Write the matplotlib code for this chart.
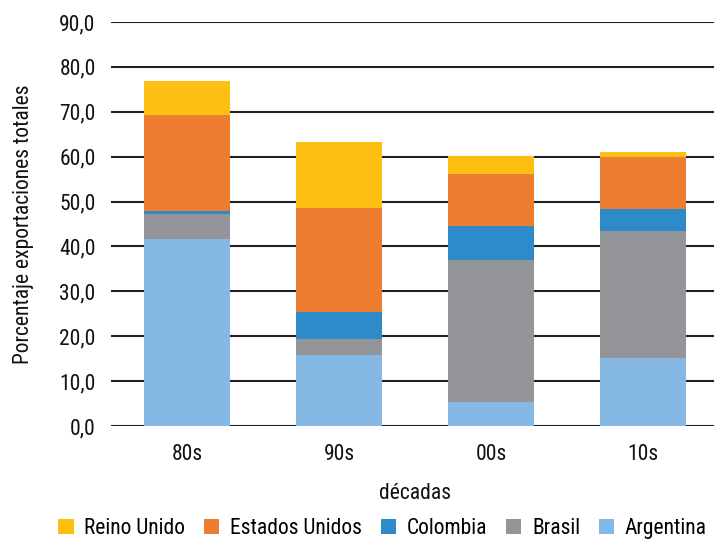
import numpy as np
import matplotlib.pyplot as plt
from matplotlib.ticker import FuncFormatter

plt.rcParams['font.family'] = ['Roboto Condensed', 'DejaVu Sans']

decadas = ['80s', '90s', '00s', '10s']
argentina = [41.6, 15.8, 5.3, 15.1]
brasil = [5.6, 3.5, 31.7, 28.3]
colombia = [0.7, 6.0, 7.5, 4.9]
estados_unidos = [21.4, 23.2, 11.6, 11.6]
reino_unido = [7.5, 14.7, 4.0, 1.1]

series = [
    ('Argentina', argentina, '#85B8E2'),
    ('Brasil', brasil, '#939598'),
    ('Colombia', colombia, '#2E8BC9'),
    ('Estados Unidos', estados_unidos, '#ED7D31'),
    ('Reino Unido', reino_unido, '#FDBF12'),
]

fig = plt.figure(figsize=(7.14, 5.42), dpi=100)
ax = fig.add_axes([111 / 714, (542 - 426) / 542, 608 / 714, 404 / 542])

x = np.arange(len(decadas))
bottom = np.zeros(len(decadas))
handles = []
for name, vals, color in series:
    b = ax.bar(x, vals, width=0.56, bottom=bottom, color=color, label=name, zorder=3)
    handles.append(b)
    bottom += np.array(vals)

ax.set_xlim(-0.5, 3.5)
ax.set_ylim(0, 90)
ax.set_yticks(np.arange(0, 91, 10))
ax.yaxis.set_major_formatter(FuncFormatter(lambda v, p: f'{v:.1f}'.replace('.', ',')))
ax.set_xticks(x)
ax.set_xticklabels(decadas)
ax.grid(axis='y', color='#222222', linewidth=1.5, zorder=0)
ax.tick_params(length=0, labelsize=15.5, colors='#111111')
ax.tick_params(axis='y', pad=11)
ax.tick_params(axis='x', pad=13)
for s in ax.spines.values():
    s.set_visible(False)

ax.set_xlabel('décadas', fontsize=15.5, labelpad=13, color='#111111')
ax.set_ylabel('Porcentaje exportaciones totales', fontsize=15.5, labelpad=18, color='#111111')

fig.legend(handles[::-1], [s[0] for s in series][::-1], loc='lower center',
           bbox_to_anchor=(0.536, -0.031), ncol=5, frameon=False, fontsize=15.5,
           handlelength=0.7, handleheight=0.7, handletextpad=0.5, columnspacing=0.88)

fig.savefig('out.png', dpi=100)
